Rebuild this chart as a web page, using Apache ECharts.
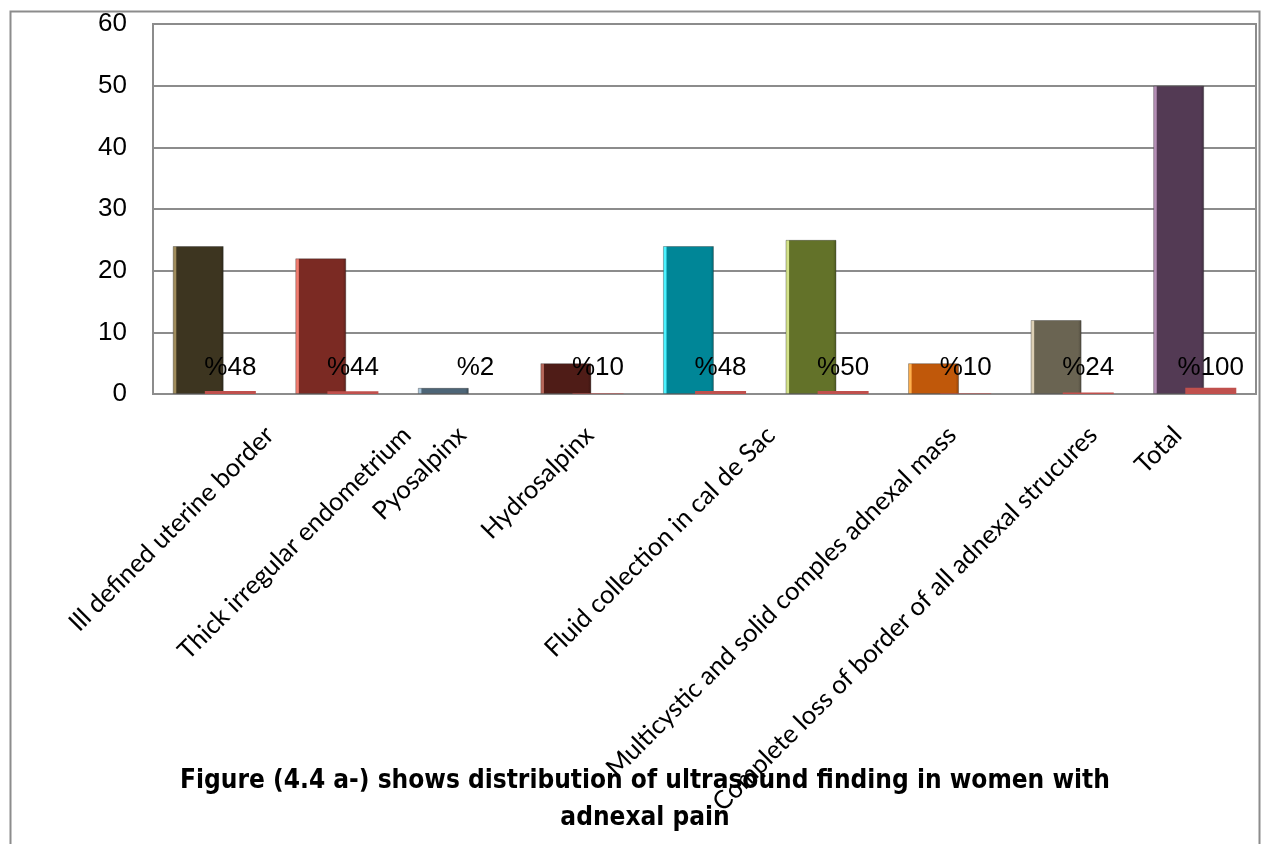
<!DOCTYPE html>
<html>
<head>
<meta charset="utf-8">
<title>Ultrasound findings in women with adnexal pain</title>
<script src="https://cdn.jsdelivr.net/npm/echarts@6/dist/echarts.min.js"></script>
<style>
  html, body { margin: 0; padding: 0; background: #ffffff; }
  #chart { width: 1261px; height: 844px; }
</style>
</head>
<body>
<div id="chart"></div>
<script>
// Ultrasound findings: number of women and share of the 50 cases
const categories = [
  'Ill defined uterine border',
  'Thick irregular endometrium',
  'Pyosalpinx',
  'Hydrosalpinx',
  'Fluid collection in cal de Sac',
  '',
  'Multicystic and solid comples adnexal mass',
  'Complete loss of border of all adnexal strucures',
  'Total'
];
const counts = [24, 22, 1, 5, 24, 25, 5, 12, 50];
const shares = [0.48, 0.44, 0.02, 0.10, 0.48, 0.50, 0.10, 0.24, 1.00];
const yTicks = [0, 10, 20, 30, 40, 50, 60];

// Bar body colour and light bevel edge for each finding
const bodyColors = ['#3d3520', '#7b2a23', '#4d6577', '#4f1c17', '#008697', '#637229', '#c0580a', '#6a6452', '#533a54'];
const edgeColors = ['#a08c5c', '#f27d70', '#a9c6db', '#b8685b', '#4cf3ff', '#d3e28a', '#ffb04d', '#dccfb4', '#b58fb6'];

// Offset of each slanted category label from its bar group, in category widths
const labelShift = [0.45, 0.57, 0.02, 0.06, 0.54, 0, 0.02, 0.17, -0.14];

function shade(hex, f) {
  const n = parseInt(hex.slice(1), 16);
  const r = Math.round(((n >> 16) & 255) * f);
  const g = Math.round(((n >> 8) & 255) * f);
  const b = Math.round((n & 255) * f);
  return 'rgb(' + r + ',' + g + ',' + b + ')';
}

function bevel(body, edge) {
  return new echarts.graphic.LinearGradient(0, 0, 1, 0, [
    { offset: 0, color: edge },
    { offset: 0.06, color: edge },
    { offset: 0.08, color: body },
    { offset: 0.93, color: body },
    { offset: 1, color: shade(body, 0.75) }
  ]);
}

// Category labels are written by a hidden companion value axis spanning the
// same band (0 .. n), so each label can sit at its own position.
const labelSlots = [];
const labelText = {};
categories.forEach((name, i) => {
  if (!name) return;
  const pos = +(i + 0.5 + labelShift[i]).toFixed(4);
  labelSlots.push(pos);
  labelText[pos] = name;
});

const chart = echarts.init(document.getElementById('chart'), null, { renderer: 'canvas' });

const gridColor = '#8c8c8c';

chart.setOption({
  animation: false,
  backgroundColor: '#ffffff',
  title: {
    text: 'Figure (4.4 a-) shows distribution of ultrasound finding in women with\nadnexal pain',
    left: 640,
    top: 758,
    textAlign: 'center',
    textStyle: {
      fontFamily: "'Liberation Sans Narrow', 'DejaVu Sans Condensed', 'Roboto Condensed', sans-serif",
      fontWeight: 'bold',
      fontSize: 26,
      lineHeight: 37,
      color: '#000000'
    }
  },
  graphic: [{
    type: 'rect',
    left: 8,
    top: 9,
    shape: { width: 1249, height: 900 },
    style: { fill: 'none', stroke: gridColor, lineWidth: 2 },
    silent: true,
    z: -1
  }],
  grid: {
    left: 153,
    top: 24,
    right: 5,
    bottom: 450,
    show: true,
    borderColor: gridColor,
    borderWidth: 2,
    backgroundColor: 'transparent'
  },
  xAxis: [
    {
      type: 'category',
      data: categories,
      axisLine: { show: true, lineStyle: { color: gridColor, width: 2 } },
      axisTick: { show: false },
      axisLabel: { show: false }
    },
    {
      type: 'value',
      position: 'bottom',
      min: 0,
      max: categories.length,
      axisLine: { show: false },
      axisTick: { show: false },
      splitLine: { show: false },
      axisLabel: {
        customValues: labelSlots,
        formatter: v => labelText[+(+v).toFixed(4)] || '',
        rotate: 45,
        margin: 37,
        fontFamily: 'Lato, "Open Sans", sans-serif',
        fontSize: 25.5,
        color: '#000000'
      }
    }
  ],
  yAxis: {
    type: 'value',
    min: yTicks[0],
    max: yTicks[yTicks.length - 1],
    interval: yTicks[1] - yTicks[0],
    axisLine: { show: true, lineStyle: { color: gridColor, width: 2 } },
    axisTick: { show: false },
    splitLine: { show: true, lineStyle: { color: gridColor, width: 2 } },
    axisLabel: {
      margin: 26,
      fontFamily: '"Liberation Sans", Arial, sans-serif',
      fontSize: 26,
      color: '#000000'
    }
  },
  series: [
    {
      name: 'Number',
      type: 'bar',
      xAxisIndex: 0,
      barWidth: 51,
      barGap: '-37%',
      data: counts.map((v, i) => ({
        value: v,
        itemStyle: { color: bevel(bodyColors[i], edgeColors[i]) }
      })),
      itemStyle: {
        borderColor: 'rgba(40,40,40,0.35)',
        borderWidth: 1
      },
      z: 2
    },
    {
      name: 'Percent',
      type: 'bar',
      xAxisIndex: 0,
      barWidth: 51,
      data: shares,
      itemStyle: { color: '#c0504d' },
      label: {
        show: true,
        position: 'insideBottom',
        distance: 13,
        formatter: p => '%' + Math.round(p.value * 100),
        fontFamily: '"Liberation Sans", Arial, sans-serif',
        fontSize: 26,
        color: '#000000'
      },
      z: 3
    }
  ]
});
</script>
</body>
</html>
